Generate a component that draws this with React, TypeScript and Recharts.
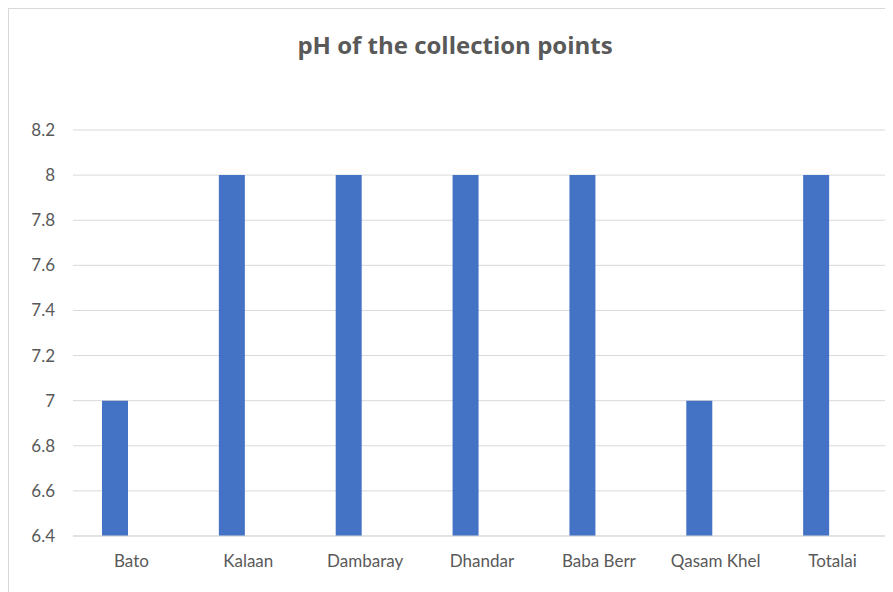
import { BarChart, Bar, XAxis, YAxis, CartesianGrid } from "recharts";

const sites = ["Bato", "Kalaan", "Dambaray", "Dhandar", "Baba Berr", "Qasam Khel", "Totalai"];
const phValues = [7, 8, 8, 8, 8, 7, 8];
const yTicks = [6.4, 6.6, 6.8, 7, 7.2, 7.4, 7.6, 7.8, 8, 8.2];

const data = sites.map((name, i) => ({ name, ph: phValues[i] }));

const font = "Lato, 'Liberation Sans', sans-serif";

export default function App() {
  return (
    <div style={{ width: 885, height: 584, overflow: "hidden" }}>
      <div
        style={{
          position: "relative",
          width: 892,
          height: 598,
          border: "1px solid #d9d9d9",
          background: "#fff",
          fontFamily: font,
        }}
      >
        <div
          style={{
            position: "absolute",
            top: 19,
            left: 0,
            width: 892,
            textAlign: "center",
            fontSize: 24,
            fontWeight: 700,
            fontFamily: "'Open Sans', sans-serif",
            color: "#595959",
          }}
        >
          pH of the collection points
        </div>
        <BarChart
          width={892}
          height={598}
          data={data}
          margin={{ top: 121, right: 10, left: 0, bottom: 41 }}
          barSize={26}
          barGap={7}
        >
          <CartesianGrid vertical={false} stroke="#d9d9d9" />
          <XAxis
            dataKey="name"
            height={30}
            tickLine={false}
            axisLine={{ stroke: "#d9d9d9" }}
            tickMargin={13}
            interval={0}
            tick={{ fill: "#595959", fontSize: 17, fontFamily: font }}
          />
          <YAxis
            width={64}
            domain={[6.4, 8.2]}
            ticks={yTicks}
            tickLine={false}
            axisLine={false}
            tickMargin={12}
            tick={{ fill: "#595959", fontSize: 17, fontFamily: font }}
          />
          <Bar dataKey="ph" fill="#4472C4" isAnimationActive={false} />
          <Bar dataKey="blank" fill="#ED7D31" isAnimationActive={false} />
        </BarChart>
      </div>
    </div>
  );
}
